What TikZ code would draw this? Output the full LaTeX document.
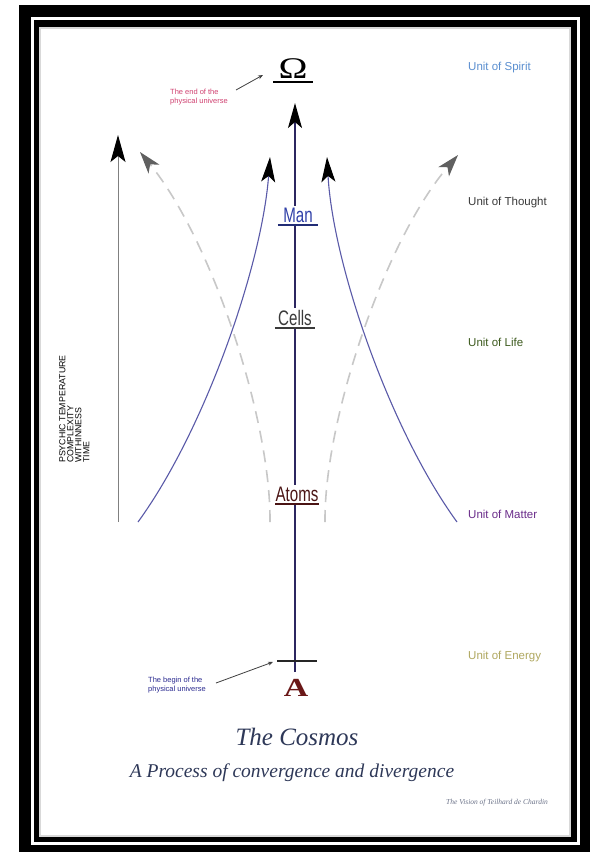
\documentclass[tikz,border=0pt]{standalone}
\usepackage{fontspec}
\setmainfont{Liberation Sans}
\newfontfamily\narrowfont[FakeStretch=0.72]{Liberation Sans}
\newfontfamily\serifbold{Liberation Serif}[BoldFont={Liberation Serif Bold}]
\newfontfamily\titlefont{Liberation Serif}[UprightFont={* Italic}]
\usetikzlibrary{arrows.meta}
\definecolor{spiritc}{HTML}{5B8FD0}
\definecolor{thoughtc}{HTML}{3A3A3A}
\definecolor{lifec}{HTML}{3D5A1E}
\definecolor{matterc}{HTML}{6A2C8A}
\definecolor{energyc}{HTML}{B0A860}
\definecolor{endc}{HTML}{D04070}
\definecolor{beginc}{HTML}{2A2A90}
\definecolor{bluelinec}{HTML}{5A5AA8}
\definecolor{centerc}{HTML}{2C2660}
\definecolor{dashc}{HTML}{C8C8C8}
\definecolor{darrowc}{HTML}{606060}
\definecolor{manc}{HTML}{3040A8}
\definecolor{cellsc}{HTML}{3A3A3A}
\definecolor{atomsc}{HTML}{4A1414}
\definecolor{alphac}{HTML}{6A1818}
\definecolor{titlec}{HTML}{2E3858}
\tikzset{
  unitlabel/.style={anchor=west, inner sep=0pt, font=\fontsize{11.5}{12}\selectfont},
  stagelabel/.style={anchor=south, fill=white, inner xsep=0pt, inner ysep=2pt, minimum width=40pt, font=\narrowfont\fontsize{21}{22}\selectfont},
  underl/.style={line width=1.4pt},
  bluecurve/.style={draw=bluelinec, line width=1.1pt, -{Stealth[length=25pt,width=14pt,inset=6pt,black]}},
  dashcurve/.style={draw=dashc, line width=1.6pt, dash pattern=on 12pt off 8pt, -{Stealth[length=22pt,width=14pt,inset=6pt,darrowc]}},
  smalltxt/.style={align=left, inner sep=0pt, font=\fontsize{7.5}{9}\selectfont},
  pointer/.style={draw=darkgray, line width=0.8pt, -{Stealth[length=5pt,width=4pt]}},
  titletext/.style={text=titlec, font=\titlefont},
}
\begin{document}
\begin{tikzpicture}[x=1pt,y=-1pt]
\useasboundingbox (0,0) rectangle (590,852);
% frame
\fill[white] (0,0) rectangle (590,852);
\fill[black] (19,5) rectangle (590,852);
\fill[white] (31,17) rectangle (580,845);
\fill[black] (34,20) rectangle (577,842);
\fill[white] (39,27) rectangle (571,837);
\draw[black!15, line width=1.5pt] (40,28) rectangle (570,836);

% coordinates
\coordinate (cbot) at (295,672);
\coordinate (ctop) at (295,103);
\coordinate (axbot) at (118,522);
\coordinate (axtop) at (118,135);
\coordinate (lbbot) at (138,522);
\coordinate (lbtop) at (270,157);
\coordinate (rbbot) at (457,522);
\coordinate (rbtop) at (327,157);
\coordinate (ldbot) at (270,522);
\coordinate (ldtop) at (140,152);
\coordinate (rdbot) at (325,522);
\coordinate (rdtop) at (458,155);
\coordinate (crossl) at (277,661);
\coordinate (crossr) at (317,661);

% dashed curves
\draw[dashcurve] (ldbot) .. controls (271,420) and (212,240) .. (ldtop);
\draw[dashcurve] (rdbot) .. controls (324,420) and (385,240) .. (rdtop);
% blue curves
\draw[bluecurve] (lbbot) .. controls (205,430) and (262,265) .. (lbtop);
\draw[bluecurve] (rbbot) .. controls (390,430) and (333,265) .. (rbtop);
% central axis
\draw[draw=centerc, line width=1.3pt, -{Stealth[length=25pt,width=14pt,inset=6pt,black]}] (cbot) -- (ctop);
\draw[line width=1.3pt, black!85] (crossl) -- (crossr);
% left axis
\draw[draw=gray, line width=1pt, -{Stealth[length=27pt,width=15pt,inset=6pt,black]}] (axbot) -- (axtop);

% stage labels
\node[stagelabel, text=manc] (man) at (298,225) {Man};
\draw[underl, draw=manc!70!black] (man.south west) -- (man.south east);
\node[stagelabel, text=cellsc] (cells) at (295,328) {Cells};
\draw[underl, draw=cellsc] (cells.south west) -- (cells.south east);
\node[stagelabel, text=atomsc] (atoms) at (297,504) {Atoms};
\draw[underl, draw=atomsc] (atoms.south west) -- (atoms.south east);

% omega and alpha
\node[anchor=south, inner sep=0pt, xscale=1.3, font=\serifbold\fontsize{30}{30}\selectfont] (omega) at (293,79) {Ω};
\draw[line width=1.3pt] (273,82) -- (313,82);
\node[inner sep=0pt, xscale=1.3, text=alphac, font=\serifbold\bfseries\fontsize{26}{26}\selectfont] (alpha) at (296,688) {A};

% small annotations
\node[smalltxt, text=endc, anchor=north west] (endtxt) at (170,89) {The end of the\\physical universe};
\coordinate (endtip) at (263,75);
\coordinate (endstart) at (236,90);
\draw[pointer] (endstart) -- (endtip);
\node[smalltxt, text=beginc, anchor=north west] (begintxt) at (148,677) {The begin of the\\physical universe};
\coordinate (begintip) at (273,662);
\coordinate (beginstart) at (216,683);
\draw[pointer] (beginstart) -- (begintip);

% rotated axis text
\node[rotate=90, anchor=north west, align=left, inner sep=0pt, font=\fontsize{8.8}{8}\selectfont] (axistxt) at (59,463) {PSYCHIC TEMPERATURE\\COMPLEXITY\\WITHINNESS\\TIME};

% unit labels
\node[unitlabel, text=spiritc] (spirit) at (468,68) {Unit of Spirit};
\node[unitlabel, text=thoughtc] (thought) at (468,203) {Unit of Thought};
\node[unitlabel, text=lifec] (life) at (468,342) {Unit of Life};
\node[unitlabel, text=matterc] (matter) at (468,514) {Unit of Matter};
\node[unitlabel, text=energyc] (energy) at (468,657) {Unit of Energy};

% titles
\node[titletext, font=\titlefont\fontsize{25}{25}\selectfont] (title1) at (297,737) {The Cosmos};
\node[titletext, font=\titlefont\fontsize{19.5}{20}\selectfont] (title2) at (292,773) {A Process of convergence and divergence};
\node[titletext, text=titlec!70, font=\titlefont\fontsize{7.5}{8}\selectfont] (title3) at (497,803) {The Vision of Teilhard de Chardin};
\end{tikzpicture}
\end{document}
